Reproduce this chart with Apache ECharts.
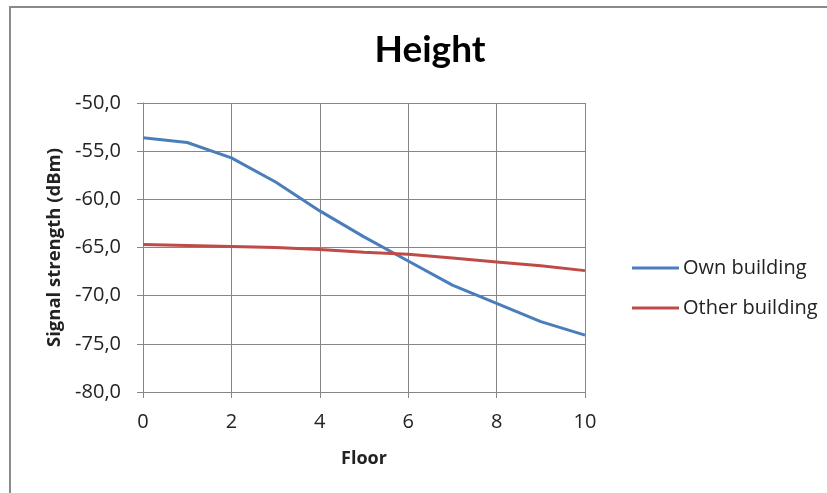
<!DOCTYPE html>
<html>
<head>
<meta charset="utf-8">
<script src="https://cdn.jsdelivr.net/npm/echarts@6/dist/echarts.min.js"></script>
<style>
  html, body { margin: 0; padding: 0; background: #fff; }
  #chart { width: 827px; height: 493px; }
</style>
</head>
<body>
<div id="chart"></div>
<script>
// Floors measured and average signal strength (dBm) per floor
const floors = [0, 1, 2, 3, 4, 5, 6, 7, 8, 9, 10];
const ownBuilding = [-53.6, -54.1, -55.7, -58.2, -61.2, -63.9, -66.4, -68.9, -70.8, -72.7, -74.1];
const otherBuilding = [-64.7, -64.8, -64.9, -65.0, -65.2, -65.5, -65.7, -66.1, -66.5, -66.9, -67.4];
const seriesNames = ['Own building', 'Other building'];
const yTicks = [-80, -75, -70, -65, -60, -55, -50];
const xTicks = [0, 2, 4, 6, 8, 10];

const pairs = vals => floors.map((f, i) => [f, vals[i]]);
const labelFont = '"Open Sans", sans-serif';

const chart = echarts.init(document.getElementById('chart'), null, { renderer: 'canvas' });
chart.setOption({
  animation: false,
  backgroundColor: '#ffffff',
  title: {
    text: 'Height',
    left: 425,
    textAlign: 'center',
    top: 27,
    textStyle: { fontFamily: 'Lato, sans-serif', fontWeight: 'bold', fontSize: 37, color: '#000' }
  },
  graphic: [{
    type: 'rect',
    shape: { x: 10, y: 7, width: 900, height: 600 },
    style: { fill: 'none', stroke: '#8a8a8a', lineWidth: 2 },
    silent: true
  }],
  grid: { left: 143, right: 242, top: 103, bottom: 101 },
  legend: {
    orient: 'vertical',
    left: 627,
    top: 253,
    icon: 'rect',
    itemWidth: 47,
    itemHeight: 3,
    itemGap: 20,
    textStyle: { fontFamily: labelFont, fontSize: 20, color: '#222', padding: [0, 0, 0, -1] },
    data: seriesNames
  },
  xAxis: {
    type: 'value',
    min: xTicks[0],
    max: xTicks[xTicks.length - 1],
    interval: 2,
    name: 'Floor',
    nameLocation: 'middle',
    nameGap: 58,
    nameTextStyle: { fontFamily: labelFont, fontWeight: 'bold', fontSize: 18, color: '#222' },
    axisLine: { lineStyle: { color: '#868686', width: 1 } },
    axisTick: { show: true, length: 6, lineStyle: { color: '#868686' } },
    axisLabel: { margin: 20, fontFamily: labelFont, fontSize: 20, color: '#222' },
    splitLine: { show: true, lineStyle: { color: '#868686', width: 1 } }
  },
  yAxis: {
    type: 'value',
    min: yTicks[0],
    max: yTicks[yTicks.length - 1],
    interval: 5,
    name: 'Signal strength (dBm)',
    nameLocation: 'middle',
    nameGap: 78,
    nameTextStyle: { fontFamily: labelFont, fontWeight: 'bold', fontSize: 18.5, color: '#222' },
    axisLine: { show: true, lineStyle: { color: '#868686', width: 1 } },
    axisTick: { show: true, length: 6, lineStyle: { color: '#868686' } },
    axisLabel: {
      margin: 22,
      fontFamily: labelFont,
      fontSize: 20,
      color: '#222',
      formatter: v => v.toFixed(1).replace('.', ',')
    },
    splitLine: { show: true, lineStyle: { color: '#868686', width: 1 } }
  },
  series: [
    {
      name: seriesNames[0],
      type: 'line',
      data: pairs(ownBuilding),
      symbol: 'none',
      color: '#4a7ebb',
      lineStyle: { color: '#4a7ebb', width: 3 }
    },
    {
      name: seriesNames[1],
      type: 'line',
      data: pairs(otherBuilding),
      symbol: 'none',
      color: '#be4b48',
      lineStyle: { color: '#be4b48', width: 3 }
    }
  ]
});
</script>
</body>
</html>
